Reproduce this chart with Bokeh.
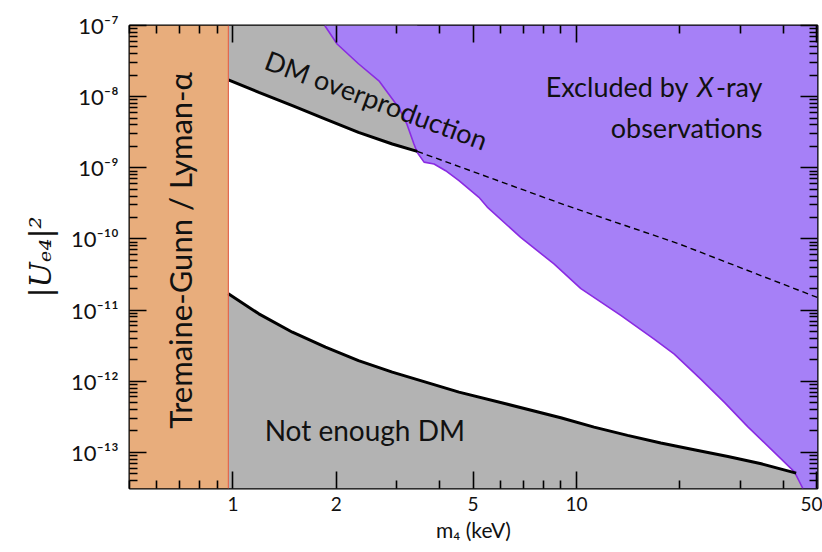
import numpy as np
from bokeh.plotting import figure
from bokeh.models import (FixedTicker, LogAxis, CustomJSTickFormatter, Label, Span, Range1d)
from bokeh.embed import file_html
from bokeh.resources import INLINE

# ---------------- data ----------------
X_MIN, X_MAX = 0.5, 50.3          # m4 range (keV)
Y_MIN, Y_MAX = 3.1e-14, 1e-7      # |U_e4|^2 range
TG_BOUND = 0.97                   # Tremaine-Gunn / Lyman-alpha bound (keV)

# upper relic-abundance line (DM overproduction), solid part
upper_m = [0.97, 1.19, 1.49, 1.86, 2.32, 2.91, 3.44]
upper_U = [1.72e-8, 1.15e-8, 7.45e-9, 4.84e-9, 3.14e-9, 2.16e-9, 1.70e-9]

# dashed continuation inside the X-ray excluded region
dash_m = [3.44, 9.2, 19.9, 50.3]
dash_U = [1.70e-9, 3.03e-10, 8.5e-11, 1.5e-11]

# lower line (not enough DM)
lower_m = [0.97, 1.19, 1.49, 1.86, 2.32, 2.91, 3.64, 4.55, 6.22, 9.0,
           11.25, 14.08, 17.6, 22.0, 27.6, 34.5, 43.6]
lower_U = [1.69e-11, 8.85e-12, 4.88e-12, 3.01e-12, 1.95e-12, 1.34e-12,
           9.68e-13, 7.01e-13, 4.81e-13, 3.06e-13, 2.26e-13, 1.73e-13,
           1.35e-13, 1.09e-13, 8.75e-14, 6.91e-14, 5.1e-14]

# X-ray exclusion boundary
xray_m = [1.85, 2.01, 2.32, 2.66, 2.84, 3.04, 3.21, 3.36, 3.44, 3.60, 3.85,
          4.16, 4.55, 5.20, 5.50, 6.88, 8.60, 10.3, 13.46, 16.83, 19.26,
          23.0, 27.0, 31.5, 43.1, 45.6]
xray_U = [1.0e-7, 5.5e-8, 2.9e-8, 1.67e-8, 1.09e-8, 7.0e-9, 4.1e-9, 2.2e-9,
          1.64e-9, 1.2e-9, 1.13e-9, 9.1e-10, 6.6e-10, 3.84e-10, 2.8e-10,
          1.05e-10, 4.45e-11, 2.0e-11, 8.4e-12, 3.9e-12, 2.4e-12, 1.07e-12,
          5.0e-13, 2.3e-13, 5.3e-14, 3.1e-14]

x_major = [1, 2, 5, 10, 50]
x_minor = [0.5, 0.6, 0.7, 0.8, 0.9, 3, 4, 6, 7, 8, 9, 20, 30, 40]
y_exps = list(range(-13, -6))
y_major = [10.0 ** e for e in y_exps]
y_minor = [k * 10.0 ** e for e in range(-14, -7) for k in range(2, 10)]

# ---------------- styling ----------------
FONT = "Lato"
GRAY = "#b3b3b3"
PURPLE = "#a680f7"
PURPLE_EDGE = "#8a2be2"
ORANGE = "#e8ad7c"
ORANGE_EDGE = "#e2654f"
TXT = "#111111"

p = figure(width=822, height=552, x_axis_type="log", y_axis_type="log",
           x_range=Range1d(X_MIN, X_MAX), y_range=Range1d(Y_MIN, Y_MAX),
           output_backend="svg", toolbar_location=None,
           min_border_left=129, min_border_right=5, min_border_top=25,
           min_border_bottom=64)
p.xgrid.visible = False
p.ygrid.visible = False
p.background_fill_color = "white"
p.border_fill_color = "white"
p.outline_line_color = "black"
p.outline_line_width = 2

# regions
p.varea(x=upper_m, y1=upper_U, y2=Y_MAX, fill_color=GRAY)
p.patch(x=[TG_BOUND] + lower_m + [xray_m[-1]],
        y=[Y_MIN] + lower_U + [Y_MIN], fill_color=GRAY, line_color=None)
p.patch(x=xray_m + [X_MAX, X_MAX], y=xray_U + [Y_MIN, Y_MAX],
        fill_color=PURPLE, line_color=None)
p.line(xray_m, xray_U, line_color=PURPLE_EDGE, line_width=1.6)
p.quad(left=X_MIN, right=TG_BOUND, bottom=Y_MIN, top=Y_MAX,
       fill_color=ORANGE, line_color=None)
p.add_layout(Span(location=TG_BOUND, dimension="height",
                  line_color=ORANGE_EDGE, line_width=1.2))

# lines
p.line(upper_m, upper_U, line_color="black", line_width=3)
p.line(lower_m, lower_U, line_color="black", line_width=3)
p.line(dash_m, dash_U, line_color="black", line_width=1.4, line_dash="6 4")

# ---------------- axes ----------------
x_ticker = FixedTicker(ticks=x_major, minor_ticks=x_minor)
y_ticker = FixedTicker(ticks=y_major, minor_ticks=y_minor)
sup_fmt = CustomJSTickFormatter(code="""
const e = Math.round(Math.log10(tick));
const s = {'-':'\u207b','0':'\u2070','1':'\u00b9','2':'\u00b2','3':'\u00b3','4':'\u2074','5':'\u2075','6':'\u2076','7':'\u2077','8':'\u2078','9':'\u2079'};
return '10' + String(e).split('').map(c => s[c]).join('');
""")
num_fmt = CustomJSTickFormatter(code="return String(Math.round(tick*100)/100);")
blank_fmt = CustomJSTickFormatter(code="return '';")


def style(ax):
    ax.axis_line_color = None
    ax.major_tick_in = 17
    ax.major_tick_out = 0
    ax.minor_tick_in = 8
    ax.minor_tick_out = 0
    ax.major_tick_line_width = 1.6
    ax.minor_tick_line_width = 1.6
    ax.major_tick_line_color = "black"
    ax.minor_tick_line_color = "black"


xa = p.xaxis[0]
xa.ticker = x_ticker
xa.formatter = num_fmt
style(xa)
xa.major_label_text_font = FONT
xa.major_label_text_font_size = "19px"
xa.major_label_text_color = TXT
xa.major_label_standoff = 8
xa.axis_label = "m\u2084 (keV)"
xa.axis_label_text_font = FONT
xa.axis_label_text_font_style = "normal"
xa.axis_label_text_font_size = "21px"
xa.axis_label_text_color = TXT
xa.axis_label_standoff = 3

ya = p.yaxis[0]
ya.ticker = y_ticker
ya.formatter = sup_fmt
style(ya)
ya.major_label_text_font = FONT
ya.major_label_text_font_size = "22px"
ya.major_label_text_color = TXT
ya.major_label_standoff = 11
ya.axis_label = "|U\u2091\u2084|\u00b2"
ya.axis_label_text_font = "DejaVu Serif"
ya.axis_label_text_font_style = "italic"
ya.axis_label_text_font_size = "30px"
ya.axis_label_text_color = TXT
ya.axis_label_standoff = 10

top = LogAxis(ticker=x_ticker, formatter=blank_fmt)
style(top)
top.major_label_standoff = 0
top.major_label_text_font_size = "1px"
p.add_layout(top, "above")

right = LogAxis(ticker=y_ticker, formatter=blank_fmt)
style(right)
right.major_label_standoff = 0
right.major_label_text_font_size = "1px"
p.add_layout(right, "right")

# ---------------- text annotations ----------------
def lab(x, y, text, size, angle=0, align="center", baseline="middle",
        style_="normal", xoff=0):
    p.add_layout(Label(x=x, y=y, text=text, angle=angle, angle_units="deg",
                       text_align=align, text_baseline=baseline,
                       text_font=FONT, text_font_size=size,
                       text_font_style=style_, text_color=TXT,
                       x_offset=xoff))


lab(0.702, 6.9e-11, "Tremaine-Gunn / Lyman-\u03b1", "31px", angle=90)
lab(2.617, 9.04e-9, "DM overproduction", "27px", angle=-20.5)
lab(2.42, 2.03e-13, "Not enough DM", "28px")
lab(34.8, 3.69e-9, "observations", "27px", align="right", baseline="alphabetic")
lab(34.8, 1.377e-8, "-ray", "27px", align="right", baseline="alphabetic")
lab(34.8, 1.377e-8, "X", "27px", align="right", baseline="alphabetic",
    style_="italic", xoff=-49)
lab(34.8, 1.377e-8, "Excluded by", "27px", align="right", baseline="alphabetic",
    xoff=-74)

open("out.html", "w").write(file_html(p, INLINE))
